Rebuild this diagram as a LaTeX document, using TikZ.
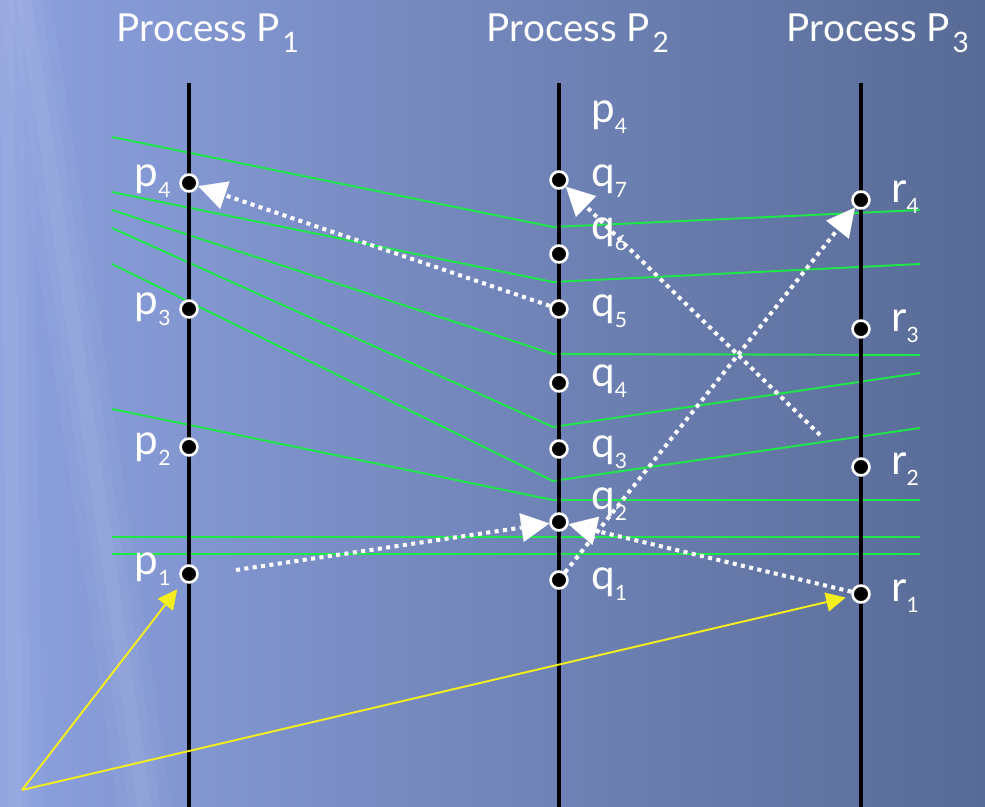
\documentclass[tikz,border=0pt]{standalone}
\usepackage{fontspec}
\setmainfont{Lato}
\usetikzlibrary{arrows.meta}

\definecolor{bgleft}{RGB}{140,160,222}
\definecolor{bgmid}{RGB}{116,134,192}
\definecolor{bgright}{RGB}{88,107,150}
\definecolor{cutgreen}{RGB}{30,232,72}
\definecolor{hiyellow}{RGB}{244,238,30}

% subscripts for event labels and process titles
\newcommand\lsub[1]{\raisebox{-5.7pt}{\fontsize{12}{12}\selectfont #1}}
\newcommand\tsub[1]{\kern1.5pt\raisebox{-5.7pt}{\fontsize{16}{16}\selectfont #1}}

\tikzset{
  timeline/.style={black, line width=2.3pt},
  event/.style={circle, fill=black, draw=white, line width=1.5pt,
                minimum size=9.6pt, inner sep=0pt},
  evlabel/.style={text=white, font=\fontsize{24}{24}\selectfont, inner sep=0pt},
  proctitle/.style={text=white, font=\fontsize{22}{22}\selectfont, inner sep=0pt},
  cut/.style={cutgreen, line width=1.1pt},
  msg/.style={white, line width=2.3pt, dash pattern=on 2.3pt off 2.5pt,
              -{Triangle[length=16pt, width=16.5pt, line width=0.1pt]}},
  pointer/.style={hiyellow, line width=1.1pt,
              -{Triangle[length=11pt, width=11pt, line width=0.1pt]}},
  streak/.style={white, line cap=butt, line join=round}
}

\begin{document}
\begin{tikzpicture}[x=0.02cm, y=-0.02cm]
  \useasboundingbox (0,0) rectangle (985,807);

  % backdrop with soft light streaks
  \shade[left color=bgleft, middle color=bgmid, right color=bgright]
    (0,0) rectangle (985,807);
  \begin{scope}
    \clip (0,0) rectangle (985,807);
    \foreach \w/\o in {30/0.03, 18/0.04, 8/0.05} {
      \draw[streak, opacity=\o, line width=\w pt] (6,-20) -- (16,830);
      \draw[streak, opacity=\o, line width=\w pt]
        (22,-20) .. controls (70,300) .. (148,830);
    }
  \end{scope}

  % process titles
  \node[proctitle, anchor=base] (t1) at (208,42) {Process P\tsub{1}};
  \node[proctitle, anchor=base] (t2) at (578,42) {Process P\tsub{2}};
  \node[proctitle, anchor=base] (t3) at (878,42) {Process P\tsub{3}};

  % consistent cuts
  \draw[cut] (112,137) -- (553,227) -- (920,210);
  \draw[cut] (112,192) -- (553,282) -- (920,264);
  \draw[cut] (112,210) -- (553,354) -- (920,355);
  \draw[cut] (112,228) -- (553,427) -- (920,373);
  \draw[cut] (112,264) -- (553,481) -- (920,428);
  \draw[cut] (112,409) -- (553,500) -- (920,500);
  \draw[cut] (112,537) -- (920,537);
  \draw[cut] (112,554) -- (920,554);

  % time lines
  \coordinate (l1a) at (189,83);  \coordinate (l1b) at (189,807);
  \coordinate (l2a) at (559,83);  \coordinate (l2b) at (559,807);
  \coordinate (l3a) at (861,83);  \coordinate (l3b) at (861,807);
  \draw[timeline] (l1a) -- (l1b);
  \draw[timeline] (l2a) -- (l2b);
  \draw[timeline] (l3a) -- (l3b);

  % events of P1
  \node[event] (p4) at (189,183) {};
  \node[event] (p3) at (189,309) {};
  \node[event] (p2) at (189,447) {};
  \node[event] (p1) at (189,574) {};
  % events of P2
  \node[event] (q7) at (559,180) {};
  \node[event] (q6) at (559,254) {};
  \node[event] (q5) at (559,309) {};
  \node[event] (q4) at (559,383) {};
  \node[event] (q3) at (559,449) {};
  \node[event] (q2) at (559,522) {};
  \node[event] (q1) at (559,580) {};
  % events of P3
  \node[event] (r4) at (861,200) {};
  \node[event] (r3) at (861,329) {};
  \node[event] (r2) at (861,467) {};
  \node[event] (r1) at (861,594) {};

  % event labels
  \node[evlabel, anchor=base east] (lp4) at (171,187) {p\lsub{4}};
  \node[evlabel, anchor=base east] (lp3) at (171,315) {p\lsub{3}};
  \node[evlabel, anchor=base east] (lp2) at (171,455) {p\lsub{2}};
  \node[evlabel, anchor=base east] (lp1) at (171,575) {p\lsub{1}};

  \node[evlabel, anchor=base west] (lx4) at (591,123) {p\lsub{4}};
  \node[evlabel, anchor=base west] (lq7) at (591,187) {q\lsub{7}};
  \node[evlabel, anchor=base west] (lq6) at (591,240) {q\lsub{6}};
  \node[evlabel, anchor=base west] (lq5) at (591,317) {q\lsub{5}};
  \node[evlabel, anchor=base west] (lq4) at (591,387) {q\lsub{4}};
  \node[evlabel, anchor=base west] (lq3) at (591,458) {q\lsub{3}};
  \node[evlabel, anchor=base west] (lq2) at (591,510) {q\lsub{2}};
  \node[evlabel, anchor=base west] (lq1) at (591,590) {q\lsub{1}};

  \node[evlabel, anchor=base west] (lr4) at (891,203) {r\lsub{4}};
  \node[evlabel, anchor=base west] (lr3) at (891,332) {r\lsub{3}};
  \node[evlabel, anchor=base west] (lr2) at (891,475) {r\lsub{2}};
  \node[evlabel, anchor=base west] (lr1) at (891,602) {r\lsub{1}};

  % messages
  \coordinate (m2s) at (820,435);
  \coordinate (m4s) at (236,570);
  \draw[msg] (q5) -- (p4);
  \draw[msg] (m2s) -- (q7);
  \draw[msg] (q1) -- (r4);
  \draw[msg] (m4s) -- (q2);
  \draw[msg] (r1) -- (q2);

  % pointers to the initial events
  \coordinate (yapex) at (22,790);
  \draw[pointer, shorten >=5.5pt] (yapex) -- (p1);
  \draw[pointer, shorten >=3.5pt] (yapex) -- (r1);
\end{tikzpicture}
\end{document}
